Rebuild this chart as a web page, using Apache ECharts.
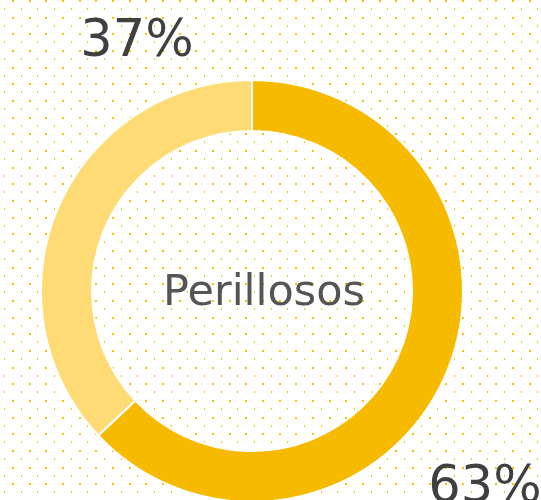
<!DOCTYPE html>
<html lang="ca">
<head>
    <meta charset="UTF-8">
    <title>Perillosos</title>
    <script src="https://cdn.jsdelivr.net/npm/echarts@6/dist/echarts.min.js"></script>
    <style>
        html, body { margin: 0; padding: 0; background: #fff; }
        #chart { width: 541px; height: 500px; }
    </style>
</head>
<body>
    <div id="chart"></div>
    <script>
        var categories = ['Perillosos', 'No perillosos'];
        var values = [63, 37];
        var colors = ['#f6bb00', '#fedb74'];
        var centerLabel = 'Perillosos';

        // fons de punts grocs
        function dotPattern() {
            var c = document.createElement('canvas');
            c.width = 50; c.height = 50;
            var ctx = c.getContext('2d');
            ctx.fillStyle = '#f7c200';
            for (var i = 0; i < 3; i++) {
                for (var j = 0; j < 3; j++) {
                    var x = Math.round(i * 50 / 3), y = Math.round(j * 50 / 3);
                    ctx.fillRect(x + 12, y, 2, 2);
                    ctx.fillRect(x + 4, y + 8, 1, 2);
                }
            }
            return c;
        }

        var labelPos = [[137, 43], [485, 489]];

        var chart = echarts.init(document.getElementById('chart'));
        var option = {
            backgroundColor: { image: dotPattern(), repeat: 'repeat' },
            animation: false,
            title: {
                text: centerLabel,
                left: 259,
                top: 267,
                textAlign: 'center',
                textStyle: {
                    fontFamily: 'DejaVu Sans',
                    fontWeight: 'normal',
                    fontSize: 43,
                    color: '#555555'
                }
            },
            graphic: values.map(function (v, i) {
                // 37% a dalt a l'esquerra, 63% a baix a la dreta
                var p = i === 0 ? labelPos[1] : labelPos[0];
                return {
                    type: 'text',
                    x: p[0],
                    y: p[1],
                    silent: true,
                    style: {
                        text: v + '%',
                        fontFamily: 'DejaVu Sans',
                        fontSize: 51,
                        fill: '#404040',
                        align: 'center',
                        verticalAlign: 'middle'
                    }
                };
            }),
            series: [{
                type: 'pie',
                center: [252, 291],
                radius: [160, 211],
                startAngle: 90,
                clockwise: true,
                silent: true,
                itemStyle: {
                    borderColor: '#ffffff',
                    borderWidth: 2
                },
                label: { show: false },
                labelLine: { show: false },
                data: categories.map(function (name, i) {
                    return { name: name, value: values[i], itemStyle: { color: colors[i] } };
                })
            }]
        };
        chart.setOption(option);
    </script>
</body>
</html>
